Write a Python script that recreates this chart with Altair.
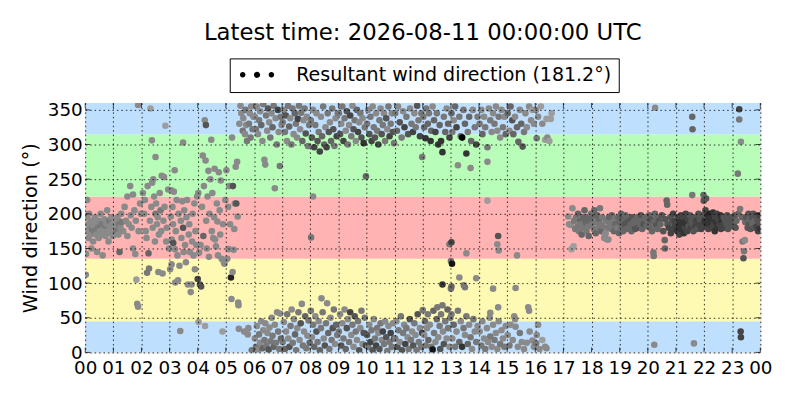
import altair as alt
import pandas as pd

TITLE = "Latest time: 2026-08-11 00:00:00 UTC"
LEGEND_LABEL = "Resultant wind direction (181.2°)"
Y_TITLE = "Wind direction (°)"

hour_ticks = list(range(25))
hour_labels = ["00", "01", "02", "03", "04", "05", "06", "07", "08", "09", "10", "11",
               "12", "13", "14", "15", "16", "17", "18", "19", "20", "21", "22", "23", "00"]
dir_ticks = [0, 50, 100, 150, 200, 250, 300, 350]

band_lo = [0, 45, 135, 225, 315]
band_hi = [45, 135, 225, 315, 360]
band_color = ["#bfdfff", "#fffab3", "#ffb3b3", "#b8fdb8", "#bfdfff"]

# (hour of day, wind direction in degrees, wind speed class)
pts_00_03 = [
    (0.02,112,2),(0.03,142,2),(0.05,195,2),(0.07,220,2),(0.08,175,2),(0.1,185,2),(0.12,165,2),(0.14,200,2),
    (0.16,180,2),(0.18,170,2),(0.2,190,2),(0.22,150,2),(0.24,178,3),(0.26,185,2),(0.28,160,2),(0.3,182,2),
    (0.32,175,3),(0.35,195,2),(0.38,170,2),(0.4,188,2),(0.42,145,2),(0.45,180,3),(0.48,165,2),(0.5,190,2),
    (0.52,175,2),(0.55,200,2),(0.58,185,3),(0.6,170,2),(0.62,140,2),(0.65,178,2),(0.68,192,2),(0.7,183,3),
    (0.72,168,2),(0.75,186,2),(0.78,205,2),(0.8,175,2),(0.83,160,2),(0.85,190,3),(0.88,180,2),(0.9,172,2),
    (0.93,195,2),(0.95,185,2),(0.98,168,2),
    (1.05,182,2),(1.1,175,3),(1.12,190,2),(1.15,195,2),(1.18,170,2),(1.2,185,3),(1.22,145,4),(1.25,180,2),
    (1.28,200,2),(1.3,188,3),(1.35,175,2),(1.4,210,2),(1.45,190,2),(1.5,168,2),(1.5,225,2),(1.55,185,2),
    (1.6,240,2),(1.62,198,2),(1.65,180,2),(1.7,150,2),(1.7,228,2),(1.75,205,2),(1.78,142,2),(1.8,190,2),
    (1.82,105,1),(1.85,70,2),(1.88,66,2),(1.88,357,2),(1.9,175,2),(1.95,215,2),(1.98,200,2),
    (2.05,230,2),(2.1,200,2),(2.12,220,2),(2.15,175,2),(2.18,165,2),(2.2,115,3),(2.22,240,2),(2.25,143,4),
    (2.27,121,3),(2.3,190,2),(2.32,352,1),(2.35,210,2),(2.37,306,2),(2.38,245,2),(2.4,180,2),(2.42,250,2),
    (2.45,225,2),(2.48,160,2),(2.5,282,2),(2.5,200,3),(2.52,215,2),(2.55,185,2),(2.58,195,2),(2.6,116,2),
    (2.62,170,2),(2.65,230,2),(2.68,205,3),(2.7,175,2),(2.72,255,2),(2.75,114,2),(2.78,190,2),(2.8,253,2),
    (2.82,210,2),(2.85,327,1),(2.88,160,2),(2.9,180,2),(2.95,235,2),(2.98,150,2),
]

pts_03_06 = [
    (3.02,120,2),(3.04,196,2),(3.06,234,2),(3.07,127,2),(3.08,163,2),(3.1,210,2),(3.12,185,2),(3.13,158,5),
    (3.15,232,2),(3.18,263,2),(3.19,149,2),(3.2,101,2),(3.22,175,2),(3.25,220,2),(3.28,140,2),(3.3,104,2),
    (3.32,200,2),(3.35,125,2),(3.38,31,2),(3.4,190,2),(3.42,165,2),(3.45,218,2),(3.48,303,2),(3.48,180,5),
    (3.5,145,2),(3.52,205,2),(3.55,155,2),(3.58,130,2),(3.6,195,2),(3.62,220,2),(3.65,98,2),(3.68,170,2),
    (3.7,185,2),(3.72,145,2),(3.75,87,2),(3.78,98,2),(3.8,160,2),(3.82,200,2),(3.85,140,2),(3.88,215,2),
    (3.9,120,2),(3.92,175,2),(3.95,155,2),(3.98,225,2),
    (4.0,106,6),(4.02,230,2),(4.03,44,1),(4.05,144,2),(4.08,98,5),(4.1,155,2),(4.12,95,5),(4.15,210,2),
    (4.18,284,2),(4.2,168,4),(4.22,240,2),(4.25,335,2),(4.26,38,1),(4.28,277,2),(4.29,328,5),(4.3,190,2),
    (4.32,150,2),(4.35,225,2),(4.38,262,2),(4.4,138,2),(4.42,200,2),(4.45,250,2),(4.48,307,2),(4.5,175,2),
    (4.52,230,2),(4.55,165,2),(4.58,195,2),(4.6,265,2),(4.62,163,2),(4.65,153,2),(4.68,215,2),(4.7,189,2),
    (4.72,140,2),(4.75,260,2),(4.78,205,2),(4.8,170,2),(4.82,248,2),(4.85,135,2),(4.88,30,1),(4.9,185,2),
    (4.93,130,2),(4.95,128,2),(4.98,220,2),
    (5.02,263,2),(5.05,135,2),(5.08,210,2),(5.1,149,2),(5.12,240,2),(5.15,185,2),(5.18,108,8),(5.2,77,2),
    (5.22,310,2),(5.24,116,2),(5.25,240,5),(5.28,148,2),(5.3,178,2),(5.32,215,2),(5.35,268,2),(5.37,215,5),
    (5.4,275,2),(5.42,196,2),(5.44,72,2),(5.45,68,2),(5.46,34,2),(5.48,330,2),(5.52,356,2),(5.55,345,2),
    (5.6,320,3),(5.62,338,2),(5.65,30,2),(5.68,315,2),(5.7,350,3),(5.72,328,2),(5.75,305,3),(5.78,26,2),
    (5.8,35,2),(5.82,330,3),(5.85,345,2),(5.88,310,3),(5.9,355,2),(5.92,3,3),(5.95,322,3),(5.98,340,2),
]

pts_06_08 = [
    (6.03,340,2),(6.07,322,3),(6.1,355,2),(6.14,315,2),(6.18,335,3),(6.22,348,2),(6.26,328,4),(6.3,305,2),
    (6.33,358,3),(6.37,278,2),(6.4,271,2),(6.43,342,3),(6.47,320,2),(6.5,352,5),(6.54,332,2),(6.58,310,3),
    (6.62,345,2),(6.66,325,4),(6.7,356,3),(6.74,237,2),(6.77,338,2),(6.81,300,3),(6.85,350,6),(6.88,318,2),
    (6.92,269,3),(6.95,340,3),(6.98,328,2),
    (6.03,20,2),(6.07,8,3),(6.1,38,2),(6.14,3,2),(6.18,26,3),(6.22,14,2),(6.26,45,2),(6.3,6,4),
    (6.33,32,2),(6.37,18,3),(6.4,42,2),(6.44,10,3),(6.48,28,2),(6.52,4,5),(6.55,36,2),(6.59,16,3),
    (6.63,50,2),(6.66,24,3),(6.7,8,4),(6.74,40,2),(6.78,14,3),(6.82,58,2),(6.86,30,3),(6.9,5,3),
    (6.93,56,2),(6.96,20,4),
    (7.02,332,3),(7.06,350,2),(7.1,318,3),(7.13,342,5),(7.17,305,2),(7.21,356,3),(7.25,326,4),(7.29,338,2),
    (7.33,300,3),(7.37,352,3),(7.41,315,2),(7.45,345,4),(7.49,330,3),(7.53,310,2),(7.56,337,6),(7.6,356,3),
    (7.64,322,2),(7.68,346,3),(7.72,305,4),(7.76,335,2),(7.8,352,3),(7.84,316,5),(7.88,340,2),(7.92,298,3),
    (7.96,328,3),
    (7.02,15,3),(7.06,44,2),(7.1,5,4),(7.14,30,2),(7.18,55,3),(7.22,20,2),(7.26,8,5),(7.3,38,3),
    (7.34,62,2),(7.38,14,3),(7.42,48,2),(7.46,26,4),(7.5,3,3),(7.54,35,2),(7.58,58,3),(7.62,18,2),
    (7.66,42,5),(7.7,70,2),(7.74,10,3),(7.78,30,2),(7.82,52,4),(7.86,6,3),(7.9,24,2),(7.94,46,3),
    (7.98,14,4),
]

pts_08_10 = [
    (8.02,335,3),(8.06,310,5),(8.1,225,2),(8.1,350,2),(8.14,296,6),(8.18,328,3),(8.22,345,2),(8.26,305,5),
    (8.3,318,3),(8.34,290,6),(8.38,340,2),(8.42,312,4),(8.46,355,3),(8.5,300,4),(8.54,325,2),(8.58,296,6),
    (8.62,345,3),(8.66,318,5),(8.7,332,2),(8.74,305,4),(8.78,352,3),(8.82,322,5),(8.86,298,3),(8.9,338,2),
    (8.94,312,6),(8.98,345,3),(8.03,166,3),
    (8.02,60,3),(8.06,22,2),(8.1,40,3),(8.14,8,4),(8.18,52,2),(8.22,30,5),(8.26,15,3),(8.3,45,2),
    (8.34,3,4),(8.38,35,3),(8.4,78,2),(8.44,58,3),(8.48,20,2),(8.52,10,5),(8.56,42,3),(8.6,71,2),
    (8.64,28,4),(8.68,5,3),(8.72,50,2),(8.76,18,3),(8.8,35,5),(8.84,62,3),(8.88,12,2),(8.92,40,4),
    (8.96,25,3),
    (9.02,345,3),(9.06,315,5),(9.1,330,2),(9.14,355,3),(9.18,305,6),(9.22,338,3),(9.26,320,2),(9.3,348,5),
    (9.34,300,3),(9.38,328,2),(9.42,342,6),(9.46,312,3),(9.5,356,2),(9.54,322,5),(9.58,335,3),(9.62,305,2),
    (9.66,350,4),(9.7,318,6),(9.74,332,2),(9.78,345,3),(9.82,310,5),(9.86,338,2),(9.9,302,7),(9.94,325,3),
    (9.98,254,4),
    (9.02,30,3),(9.06,55,2),(9.1,10,5),(9.14,42,2),(9.18,20,3),(9.22,62,2),(9.26,5,4),(9.3,35,5),
    (9.34,48,2),(9.38,15,3),(9.42,58,6),(9.46,25,2),(9.5,40,3),(9.54,8,2),(9.58,52,5),(9.62,30,3),
    (9.66,18,2),(9.7,45,3),(9.74,3,5),(9.78,35,2),(9.82,60,3),(9.86,12,2),(9.9,28,5),(9.94,50,3),
    (9.98,10,6),
]

pts_10_12 = [
    (10.02,330,3),(10.06,350,2),(10.1,315,5),(10.14,340,3),(10.18,305,6),(10.22,355,2),(10.26,325,3),(10.3,310,5),
    (10.34,345,2),(10.38,320,3),(10.42,300,6),(10.46,335,3),(10.5,352,2),(10.54,315,5),(10.58,328,3),(10.62,345,2),
    (10.66,305,3),(10.7,338,5),(10.74,322,2),(10.78,355,3),(10.82,312,6),(10.86,330,3),(10.9,345,2),(10.94,318,5),
    (10.98,302,3),
    (10.02,25,5),(10.06,8,3),(10.1,40,2),(10.14,15,6),(10.18,32,3),(10.22,3,5),(10.26,48,2),(10.3,20,3),
    (10.34,10,6),(10.38,35,3),(10.42,28,2),(10.46,5,5),(10.5,42,3),(10.54,18,2),(10.58,30,6),(10.62,12,3),
    (10.66,45,2),(10.7,22,5),(10.74,2,3),(10.78,38,2),(10.82,15,3),(10.86,28,6),(10.9,8,3),(10.94,42,2),
    (10.98,20,5),
    (11.02,345,3),(11.08,320,4),(11.12,355,2),(11.18,332,5),(11.25,310,3),(11.3,348,2),(11.35,325,6),(11.42,340,3),
    (11.48,315,5),(11.55,352,2),(11.6,330,3),(11.65,318,6),(11.7,345,2),(11.75,325,3),(11.8,356,5),(11.85,335,3),
    (11.9,312,6),(11.95,345,3),(11.98,282,3),
    (11.02,20,3),(11.06,45,2),(11.1,8,5),(11.14,32,3),(11.18,15,2),(11.22,52,3),(11.26,3,5),(11.3,28,3),
    (11.34,40,2),(11.38,12,6),(11.42,35,3),(11.46,22,2),(11.5,5,3),(11.54,48,5),(11.58,18,3),(11.62,30,2),
    (11.66,10,5),(11.7,42,3),(11.74,25,2),(11.78,3,3),(11.82,55,5),(11.86,15,3),(11.9,35,2),(11.94,8,3),
    (11.98,28,6),
]

pts_12_14 = [
    (12.02,340,3),(12.05,325,4),(12.1,309,7),(12.12,352,3),(12.18,330,4),(12.22,345,3),(12.28,305,7),(12.3,320,4),
    (12.35,355,2),(12.4,335,4),(12.45,318,6),(12.5,345,3),(12.55,300,7),(12.6,328,4),(12.65,305,7),(12.7,289,7),
    (12.75,340,3),(12.8,318,4),(12.85,352,2),(12.9,330,4),(12.95,310,6),
    (12.7,98,7),(12.95,156,3),(13.0,132,3),(13.02,159,6),(13.04,128,9),(13.0,92,3),(13.02,95,4),
    (12.0,61,3),(12.05,25,2),(12.08,45,4),(12.1,10,3),(12.15,35,2),(12.18,55,3),(12.2,18,4),(12.25,40,2),
    (12.3,8,3),(12.35,4,9),(12.38,60,4),(12.4,28,3),(12.45,15,2),(12.5,48,4),(12.52,65,3),(12.55,22,2),
    (12.6,38,3),(12.62,5,5),(12.65,55,3),(12.7,68,3),(12.72,30,2),(12.75,12,5),(12.8,45,3),(12.85,20,2),
    (12.88,62,4),(12.9,35,3),(12.95,8,2),(12.98,50,3),
    (13.02,345,4),(13.05,318,3),(13.1,335,2),(13.15,355,4),(13.2,325,6),(13.25,270,2),(13.3,340,3),(13.35,312,4),
    (13.4,310,10),(13.45,350,3),(13.5,330,4),(13.55,287,7),(13.6,318,3),(13.65,340,4),(13.7,266,2),(13.72,305,4),
    (13.78,350,2),(13.85,325,3),(13.9,300,6),(13.95,340,3),
    (13.3,108,2),(13.46,97,3),(13.5,94,3),(13.55,143,2),(13.9,107,2),
    (13.02,55,3),(13.05,20,2),(13.1,40,4),(13.15,8,3),(13.2,30,2),(13.25,60,3),(13.3,15,4),(13.35,45,2),
    (13.4,8,7),(13.45,35,3),(13.5,25,2),(13.55,52,3),(13.6,12,4),(13.65,40,2),(13.7,22,3),(13.75,5,2),
    (13.8,48,3),(13.85,30,2),(13.9,15,3),(13.95,38,2),
]

pts_14_17 = [
    (14.02,330,3),(14.08,350,2),(14.12,315,4),(14.18,340,2),(14.22,325,3),(14.3,296,3),(14.3,275,2),(14.35,352,2),
    (14.4,335,3),(14.45,318,2),(14.5,345,2),(14.55,330,3),(14.6,355,2),(14.65,320,2),(14.7,340,3),(14.75,310,2),
    (14.8,350,2),(14.85,325,3),(14.9,340,2),(14.95,315,4),
    (14.3,219,1),(14.68,168,5),(14.65,156,2),(14.7,147,2),(14.5,92,2),(14.68,65,2),(14.4,57,2),
    (14.02,30,2),(14.08,10,3),(14.12,45,2),(14.18,20,2),(14.22,5,3),(14.28,35,2),(14.32,15,2),(14.38,50,2),
    (14.4,23,3),(14.45,8,2),(14.5,40,2),(14.55,18,3),(14.6,28,2),(14.65,5,2),(14.7,45,2),(14.75,12,3),
    (14.8,32,2),(14.85,20,2),(14.9,8,3),(14.95,38,2),
    (15.02,345,4),(15.08,320,2),(15.12,355,4),(15.18,335,5),(15.22,315,4),(15.28,340,2),(15.35,325,4),(15.4,304,4),
    (15.45,350,2),(15.5,330,4),(15.55,297,5),(15.6,318,3),(15.65,345,2),(15.7,325,2),(15.78,355,2),(15.85,335,2),
    (15.9,350,1),(15.95,330,2),
    (15.3,93,2),(15.35,140,2),(15.75,65,2),(15.78,60,2),(15.25,52,2),(15.28,48,2),
    (15.02,25,2),(15.08,10,3),(15.12,40,2),(15.2,18,2),(15.3,37,2),(15.38,8,2),(15.45,28,3),(15.52,15,2),
    (15.6,5,2),(15.7,14,2),(15.8,30,2),(15.9,17,2),(15.95,8,2),
    (16.02,350,2),(16.05,309,3),(16.1,340,2),(16.2,355,1),(16.25,330,2),(16.35,307,1),(16.4,337,1),(16.43,310,2),
    (16.5,305,1),(16.55,337,1),(16.58,345,1),
    (16.03,13,3),(16.05,25,2),(16.1,40,2),(16.15,5,2),(16.25,18,1),(16.35,8,2),(16.4,6,2),
]

pts_17_20 = [
    (17.17,196,2),(17.2,185,2),(17.26,184,2),(17.29,149,1),(17.32,208,2),(17.36,153,1),(17.38,190,3),(17.42,178,3),
    (17.45,195,3),(17.5,182,3),(17.52,200,4),(17.55,175,3),(17.6,190,4),(17.62,185,3),(17.65,170,4),(17.7,195,4),
    (17.72,180,3),(17.75,205,4),(17.8,188,4),(17.82,175,3),(17.85,195,4),(17.88,182,3),(17.9,168,4),(17.95,190,4),
    (17.98,200,3),
    (18.02,185,3),(18.05,195,4),(18.08,178,3),(18.1,205,4),(18.12,190,3),(18.15,172,4),(18.18,188,3),(18.2,198,4),
    (18.25,180,3),(18.28,192,4),(18.3,208,3),(18.32,185,3),(18.35,175,4),(18.38,195,3),(18.4,182,3),(18.45,165,2),
    (18.48,170,2),(18.5,172,2),(18.52,190,3),(18.55,163,2),(18.58,180,3),(18.6,163,2),(18.62,195,4),(18.65,185,3),
    (18.7,178,3),(18.72,198,4),(18.75,188,3),(18.8,175,4),(18.82,192,3),(18.85,185,4),(18.9,180,3),(18.95,195,4),
    (18.98,172,4),
    (19.02,188,4),(19.05,200,4),(19.08,182,4),(19.1,195,5),(19.12,175,4),(19.15,190,4),(19.18,185,5),(19.2,198,4),
    (19.25,178,4),(19.28,188,5),(19.3,195,4),(19.32,180,4),(19.35,190,5),(19.4,185,4),(19.42,175,4),(19.45,195,5),
    (19.5,183,4),(19.52,190,4),(19.55,178,5),(19.6,188,4),(19.62,195,4),(19.65,180,5),(19.7,190,4),(19.72,185,4),
    (19.75,198,5),(19.8,178,4),(19.82,190,4),(19.85,185,5),(19.9,195,4),(19.95,182,4),(19.98,190,4),
]

pts_20_24 = [
    (20.02,185,4),(20.05,198,4),(20.08,180,4),(20.1,192,5),(20.15,175,4),(20.2,144,3),(20.21,139,3),(20.22,188,4),
    (20.25,200,4),(20.26,353,2),(20.23,11,2),(20.3,183,5),(20.32,195,4),(20.35,178,4),(20.4,190,5),(20.45,185,4),
    (20.5,198,5),(20.55,175,5),(20.6,162,4),(20.61,150,4),(20.62,192,5),(20.67,219,4),(20.69,213,4),(20.7,185,5),
    (20.75,180,6),(20.8,195,5),(20.82,172,6),(20.85,188,5),(20.9,200,6),(20.92,178,6),(20.95,190,6),(20.98,183,6),
    (21.02,190,6),(21.05,175,7),(21.08,195,6),(21.1,182,7),(21.12,170,6),(21.15,188,7),(21.18,198,6),(21.2,178,7),
    (21.22,185,7),(21.25,195,6),(21.28,172,7),(21.3,188,7),(21.32,180,6),(21.35,200,6),(21.38,185,7),(21.4,175,6),
    (21.42,192,6),(21.45,182,5),(21.5,198,5),(21.52,180,6),(21.55,190,5),(21.58,227,3),(21.58,340,4),(21.59,322,4),
    (21.6,185,5),(21.62,175,5),(21.64,13,2),(21.65,195,5),(21.7,182,6),(21.72,190,6),(21.75,178,5),(21.8,200,5),
    (21.82,185,6),(21.85,192,5),(21.9,178,6),(21.92,198,5),(21.95,183,6),(21.98,227,4),(21.99,219,5),
    (22.02,190,7),(22.05,205,6),(22.07,222,5),(22.1,185,7),(22.12,198,7),(22.15,178,6),(22.18,192,7),(22.2,200,8),
    (22.22,185,7),(22.25,195,7),(22.28,180,6),(22.3,190,7),(22.32,202,7),(22.35,185,6),(22.38,175,7),(22.4,195,6),
    (22.42,188,7),(22.45,200,6),(22.48,180,7),(22.5,192,6),(22.55,185,6),(22.58,198,7),(22.6,178,6),(22.62,190,7),
    (22.65,183,6),(22.7,195,5),(22.72,180,6),(22.75,190,5),(22.8,185,5),(22.82,198,5),(22.85,178,5),(22.9,190,5),
    (22.92,195,5),(22.95,182,5),(22.98,188,5),
    (23.02,192,5),(23.05,185,5),(23.1,198,5),(23.12,180,5),(23.15,190,4),(23.2,258,3),(23.22,200,4),(23.25,351,6),
    (23.25,336,3),(23.28,207,3),(23.3,30,6),(23.31,22,6),(23.31,304,2),(23.35,195,4),(23.37,160,3),(23.4,136,5),
    (23.42,146,3),(23.45,162,2),(23.47,188,4),(23.5,195,5),(23.55,180,5),(23.58,200,5),(23.6,185,5),(23.62,192,4),
    (23.65,178,5),(23.7,195,5),(23.72,185,4),(23.75,200,5),(23.78,180,5),(23.8,190,4),(23.85,198,5),(23.88,182,6),
    (23.9,192,5),(23.92,175,6),(23.95,188,5),(23.97,198,6),(23.99,178,7),
]

all_pts = pts_00_03 + pts_03_06 + pts_06_08 + pts_08_10 + pts_10_12 + pts_12_14 + pts_14_17 + pts_17_20 + pts_20_24
points_df = pd.DataFrame(all_pts, columns=["hour", "direction", "speed"])
bands_df = pd.DataFrame({"lo": band_lo, "hi": band_hi, "color": band_color})
legend_df = pd.DataFrame({"series": [LEGEND_LABEL]})
xticks_df = pd.DataFrame({"hour": hour_ticks})
yticks_df = pd.DataFrame({"direction": dir_ticks})

FONT = "DejaVu Sans"
W, H = 682, 252
TICK_FS = 18.5

x_scale = alt.Scale(domain=[0, 24], nice=False, zero=False)
y_scale = alt.Scale(domain=[0, 360], nice=False)

label_expr = "[" + ",".join("'%s'" % s for s in hour_labels) + "][datum.value]"

x_axis = alt.Axis(values=hour_ticks, labelExpr=label_expr, title=None, labelOverlap=False,
                  labelFlush=False, labelBound=False, labelSeparation=0,
                  grid=True, gridColor="black", gridDash=[1.5, 3], gridWidth=0.8, gridOpacity=1,
                  ticks=False, domain=False, labelFont=FONT, labelFontSize=TICK_FS, labelColor="black",
                  labelPadding=6, zindex=1)
y_axis = alt.Axis(values=dir_ticks, title=Y_TITLE, labelOverlap=False, labelFlush=False,
                  labelBound=False, labelSeparation=0,
                  grid=True, gridColor="black", gridDash=[1.5, 3], gridWidth=0.8, gridOpacity=1,
                  ticks=False, domain=False, labelFont=FONT, labelFontSize=TICK_FS, labelColor="black",
                  labelPadding=3, titleFont=FONT, titleFontSize=19.5, titleFontWeight="normal",
                  titleColor="black", titlePadding=7, zindex=1)

X = lambda f: alt.X(f, scale=x_scale, axis=x_axis)
Y = lambda f: alt.Y(f, scale=y_scale, axis=y_axis)

bands = alt.Chart(bands_df).mark_rect().encode(
    x=alt.datum(0, scale=x_scale, axis=x_axis),
    x2=alt.datum(24),
    y=Y("lo:Q"),
    y2="hi:Q",
    color=alt.Color("color:N", scale=None),
)

points = alt.Chart(points_df).mark_circle(size=44, opacity=1, strokeWidth=0, clip=True).encode(
    x=X("hour:Q"),
    y=Y("direction:Q"),
    color=alt.Color("speed:Q", scale=alt.Scale(domain=[0, 10], range=["#b0b0b0", "#000000"]), legend=None),
)

TL = 5  # inward tick length in px
ticks_bottom = alt.Chart(xticks_df).mark_tick(orient="vertical", size=TL, thickness=1, color="black",
                                              yOffset=-TL / 2).encode(x=X("hour:Q"), y=alt.datum(0, scale=y_scale, axis=y_axis))
ticks_top = alt.Chart(xticks_df).mark_tick(orient="vertical", size=TL, thickness=1, color="black",
                                           yOffset=TL / 2).encode(x=X("hour:Q"), y=alt.datum(360, scale=y_scale, axis=y_axis))
ticks_left = alt.Chart(yticks_df).mark_tick(orient="horizontal", size=TL, thickness=1, color="black",
                                            xOffset=TL / 2).encode(y=Y("direction:Q"), x=alt.datum(0, scale=x_scale, axis=x_axis))
ticks_right = alt.Chart(yticks_df).mark_tick(orient="horizontal", size=TL, thickness=1, color="black",
                                             xOffset=-TL / 2).encode(y=Y("direction:Q"), x=alt.datum(24, scale=x_scale, axis=x_axis))

def dot(cx, r):
    return "M%.3f,0a%.3f,%.3f 0 1,0 %.3f,0a%.3f,%.3f 0 1,0 %.3f,0Z" % (cx - r, r, r, 2 * r, r, r, -2 * r)

# symbol box is 14px wide (size 196 -> unit = 7px); dots spread beyond it
three_dots = " ".join([dot(-0.5, 0.4), dot(1.57, 0.45), dot(3.64, 0.4)])

legend_layer = alt.Chart(legend_df).mark_point(filled=True, opacity=0, size=10, color="black").encode(
    x=alt.datum(12, scale=x_scale, axis=x_axis),
    y=alt.datum(180, scale=y_scale, axis=y_axis),
    shape=alt.Shape("series:N", scale=alt.Scale(range=[three_dots]),
                    legend=alt.Legend(title=None, orient="none", legendX=146, legendY=-45,
                                      strokeColor="black", fillColor="white", padding=7,
                                      cornerRadius=0, labelFont=FONT, labelFontSize=19.2,
                                      labelColor="black", labelOffset=41, labelLimit=0,
                                      symbolType=three_dots, symbolSize=196, symbolOpacity=1,
                                      symbolFillColor="black", symbolStrokeColor="black",
                                      symbolStrokeWidth=0)),
)

chart = alt.layer(bands, points, ticks_bottom, ticks_top, ticks_left, ticks_right, legend_layer).properties(
    width=W, height=H,
    title=alt.TitleParams(TITLE, font=FONT, fontSize=23, fontWeight="normal", color="black",
                          anchor="middle", frame="group", offset=13),
    autosize=alt.AutoSizeParams(type="none"),
    padding={"left": 78, "top": 94, "right": 32, "bottom": 30},
).configure_view(stroke="black", strokeWidth=1).configure(font=FONT).configure_axis(
    labelOverlap=False, labelFlush=False, labelBound=False,
)

chart.save("out.html", embed_options={"renderer": "svg", "actions": False})
